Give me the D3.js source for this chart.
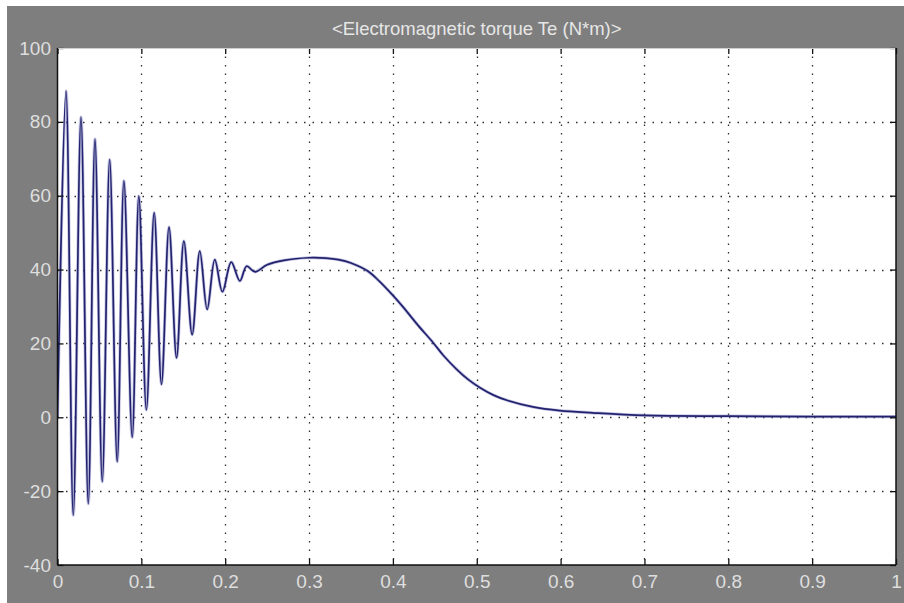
<!DOCTYPE html>
<html>
<head>
<meta charset="utf-8">
<script src="https://cdn.jsdelivr.net/npm/d3@7"></script>
<style>
  html, body { margin: 0; padding: 0; background: #ffffff; }
  svg { display: block; }
  text { font-family: "Liberation Sans", Arial, sans-serif; }
</style>
</head>
<body>
<script>
// ---- data ----
const titleText = "<Electromagnetic torque Te (N*m)>";
const xTicks = [0, 0.1, 0.2, 0.3, 0.4, 0.5, 0.6, 0.7, 0.8, 0.9, 1];
const xTickLabels = ["0", "0.1", "0.2", "0.3", "0.4", "0.5", "0.6", "0.7", "0.8", "0.9", "1"];
const yTicks = [-40, -20, 0, 20, 40, 60, 80, 100];
const yTickLabels = ["-40", "-20", "0", "20", "40", "60", "80", "100"];

// time (s) and electromagnetic torque (N*m): oscillation extremes, then the smooth part
const timeS = [
  0, 0.0101, 0.0188, 0.0280, 0.0367, 0.0447, 0.0534, 0.0622, 0.0712, 0.0792,
  0.0891, 0.0970, 0.1060, 0.1153, 0.1240, 0.1330, 0.1420, 0.1507, 0.1606, 0.1697,
  0.1785, 0.1876, 0.1967, 0.2072, 0.2175, 0.2255, 0.2355, 0.2500, 0.2700, 0.3000,
  0.3200, 0.3350, 0.3500, 0.3700, 0.3840, 0.4000, 0.4120, 0.4300, 0.4480, 0.4600,
  0.4760, 0.4900, 0.5040, 0.5200, 0.5360, 0.5670, 0.5990, 0.6380, 0.7000, 0.8000,
  0.9000, 1.0000
];
const torqueTe = [
  0, 88.4, -26.5, 81.3, -23.4, 75.3, -17.4, 69.8, -12.0, 64.0,
  -5.4, 59.9, 2.0, 55.4, 8.9, 51.5, 16.1, 47.7, 22.4, 45.0,
  29.2, 42.7, 34.0, 42.0, 36.9, 40.9, 39.4, 41.3, 42.5, 43.2,
  43.1, 42.7, 41.8, 39.6, 36.8, 33.0, 29.9, 24.9, 20.2, 16.8,
  13.0, 10.2, 8.0, 6.0, 4.6, 2.8, 1.8, 1.2, 0.5, 0.3,
  0.2, 0.2
];

// ---- drawing ----
const W = 904, H = 603;
const svg = d3.select("body").append("svg").attr("width", W).attr("height", H);

svg.append("rect").attr("x", 0).attr("y", 0).attr("width", W).attr("height", H).attr("fill", "#ffffff");
svg.append("rect").attr("x", 7).attr("y", 6).attr("width", W - 7).attr("height", H - 6).attr("fill", "#7e7e7e");

const L = 57.5, R = 896, T = 48, B = 565;
const x = d3.scaleLinear().domain([0, 1]).range([L, R]);
const y = d3.scaleLinear().domain([-40, 100]).range([B, T]);

svg.append("rect").attr("x", L).attr("y", T).attr("width", R - L).attr("height", B - T).attr("fill", "#ffffff");

// grid
const grid = svg.append("g").attr("stroke", "#2e2e2e").attr("stroke-width", 1.3)
  .attr("stroke-dasharray", "1.5,7").attr("fill", "none");
grid.selectAll("line.v").data(xTicks.filter(d => d > 0 && d < 1)).join("line")
  .attr("class", "v")
  .attr("x1", d => Math.round(x(d)) + 0.5).attr("x2", d => Math.round(x(d)) + 0.5)
  .attr("y1", T).attr("y2", B);
grid.selectAll("line.h").data(yTicks.filter(d => d > -40 && d < 100)).join("line")
  .attr("class", "h")
  .attr("y1", d => Math.round(y(d)) + 0.5).attr("y2", d => Math.round(y(d)) + 0.5)
  .attr("x1", L).attr("x2", R);

// curve
svg.append("clipPath").attr("id", "clip").append("rect")
  .attr("x", L).attr("y", T).attr("width", R - L).attr("height", B - T);
const pts = timeS.map((t, i) => [t, torqueTe[i]]);
const line = d3.line().x(d => x(d[0])).y(d => y(d[1])).curve(d3.curveCatmullRom.alpha(0.5));
svg.append("path").datum(pts)
  .attr("clip-path", "url(#clip)")
  .attr("d", line)
  .attr("fill", "none")
  .attr("stroke", "#7c7cc0").attr("stroke-width", 3.2).attr("stroke-opacity", 0.45)
  .attr("stroke-linejoin", "round");
svg.append("path").datum(pts)
  .attr("clip-path", "url(#clip)")
  .attr("d", line)
  .attr("fill", "none")
  .attr("stroke", "#22226e").attr("stroke-width", 1.7)
  .attr("stroke-linejoin", "round");

// axes
const fmtX = d => xTickLabels[xTicks.indexOf(d)];
const fmtY = d => yTickLabels[yTicks.indexOf(d)];

const axB = svg.append("g").attr("transform", `translate(0,${B})`)
  .call(d3.axisBottom(x).tickValues(xTicks).tickFormat(fmtX).tickSizeInner(-6).tickSizeOuter(0).tickPadding(10));
const axL = svg.append("g").attr("transform", `translate(${L},0)`)
  .call(d3.axisLeft(y).tickValues(yTicks).tickFormat(fmtY).tickSizeInner(-6).tickSizeOuter(0).tickPadding(6.5));
const axT = svg.append("g").attr("transform", `translate(0,${T})`)
  .call(d3.axisTop(x).tickValues(xTicks).tickFormat("").tickSizeInner(-6).tickSizeOuter(0));
const axR = svg.append("g").attr("transform", `translate(${R},0)`)
  .call(d3.axisRight(y).tickValues(yTicks).tickFormat("").tickSizeInner(-6).tickSizeOuter(0));

[axB, axL, axT, axR].forEach(g => {
  g.selectAll(".tick line").attr("stroke", "#111").attr("stroke-width", 1.3);
  g.select(".domain").remove();
  g.selectAll("text").attr("fill", "#dedede").attr("font-size", 19)
    .attr("font-family", "'Liberation Sans', Arial, sans-serif");
});

// box
svg.append("line").attr("x1", L).attr("x2", R).attr("y1", T + 0.5).attr("y2", T + 0.5)
  .attr("stroke", "#cfcfcf").attr("stroke-width", 1);
svg.append("line").attr("x1", L).attr("x2", L).attr("y1", T).attr("y2", B)
  .attr("stroke", "#111").attr("stroke-width", 1.5);
svg.append("line").attr("x1", R).attr("x2", R).attr("y1", T).attr("y2", B)
  .attr("stroke", "#111").attr("stroke-width", 1.5);
svg.append("line").attr("x1", L).attr("x2", R).attr("y1", B).attr("y2", B)
  .attr("stroke", "#111").attr("stroke-width", 1.5);

// title
svg.append("text").attr("x", (L + R) / 2).attr("y", 35)
  .attr("text-anchor", "middle").attr("fill", "#e6e6e6").attr("font-size", 18.5)
  .text(titleText);
</script>
</body>
</html>
